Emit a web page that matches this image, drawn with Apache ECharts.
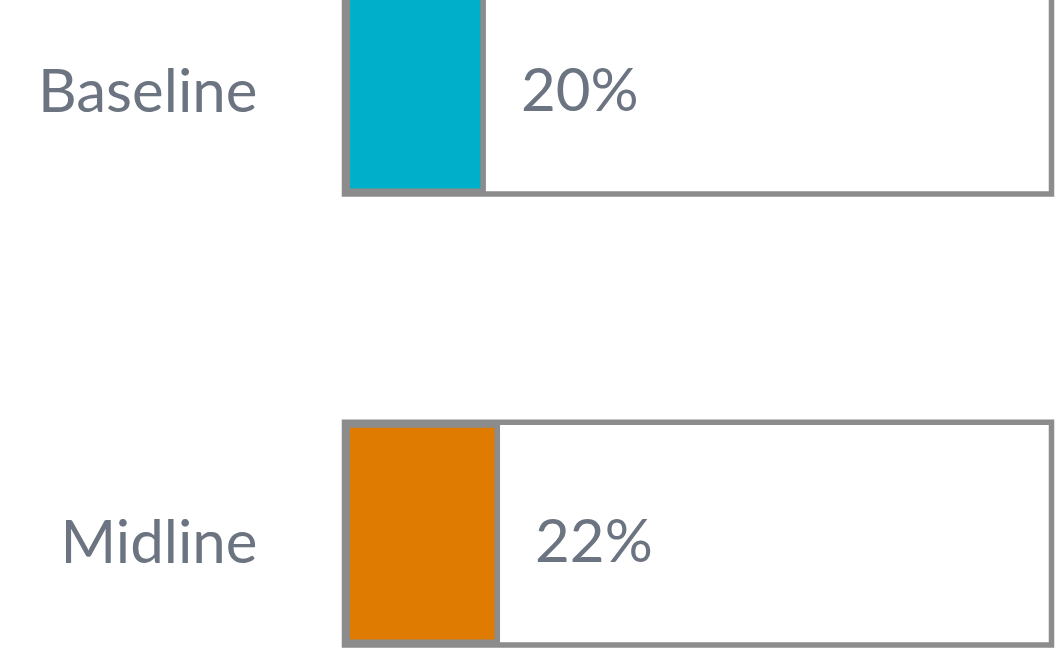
<!DOCTYPE html>
<html>
<head>
<meta charset="utf-8">
<script src="https://cdn.jsdelivr.net/npm/echarts@6/dist/echarts.min.js"></script>
<style>html,body{margin:0;padding:0;background:#fff;}#c{width:1059px;height:672px;}</style>
</head>
<body>
<div id="c"></div>
<script>
var categories = ['Baseline', 'Midline'];
var values = [20, 22];
var colors = ['#00B0CB', '#DE7B00'];

var chart = echarts.init(document.getElementById('c'), null, {renderer: 'canvas'});
chart.setOption({
  animation: false,
  backgroundColor: '#ffffff',
  grid: {left: 344.5, right: 7.5, top: -142.85, height: 902, containLabel: false, outerBoundsMode: 'none'},
  xAxis: {type: 'value', min: 0, max: 100, show: false},
  yAxis: {
    type: 'category', data: categories, inverse: true,
    axisLine: {show: false}, axisTick: {show: false}, splitLine: {show: false},
    axisLabel: {margin: 87, color: '#6b7480', fontFamily: 'Lato', fontSize: 60, verticalAlign: 'top', lineHeight: 20}
  },
  series: [
    {
      type: 'bar', barWidth: 222.7, clip: false,
      data: values.map(function (v, i) { return {value: v, itemStyle: {color: colors[i]}}; }),
      itemStyle: {borderColor: '#8c8c8c', borderWidth: 5.5},
      showBackground: true,
      backgroundStyle: {color: '#ffffff', borderColor: '#8c8c8c', borderWidth: 5.5},
      label: {
        show: true, position: 'right', distance: 35, offset: [0, 9],
        formatter: '{c}%', color: '#6b7480', fontFamily: 'Lato', fontSize: 60
      }
    }
  ]
});
</script>
</body>
</html>
